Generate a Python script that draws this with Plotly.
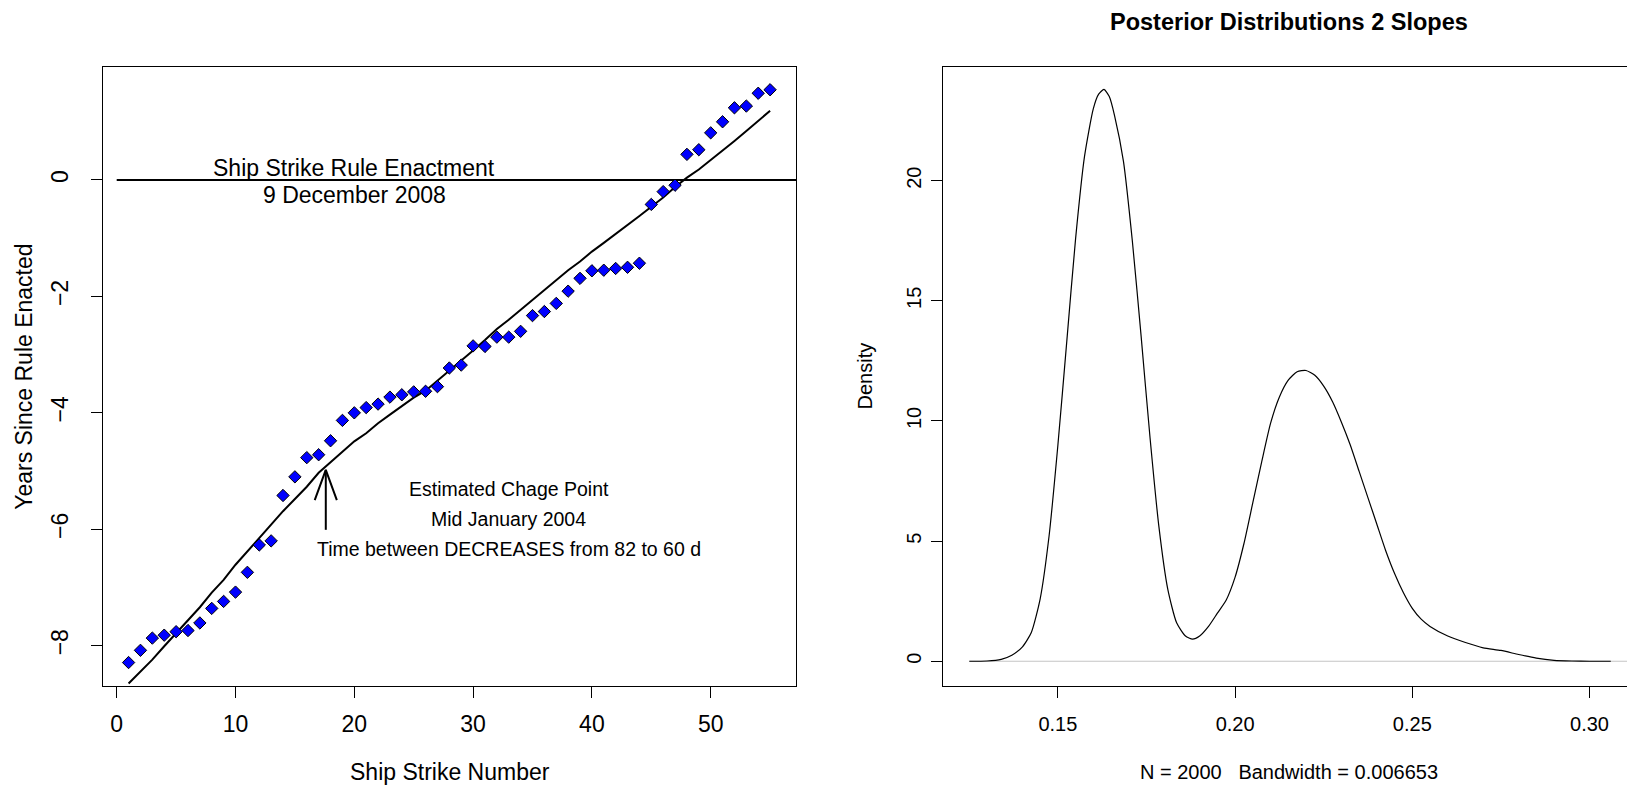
import plotly.graph_objects as go

# ---------------- data ----------------
strike_number = list(range(1, 56))
years_since_rule = [
    -8.29, -8.08, -7.87, -7.82, -7.76, -7.74, -7.61, -7.36, -7.24, -7.08,
    -6.74, -6.27, -6.20, -5.42, -5.10, -4.77, -4.72, -4.48, -4.13, -4.00,
    -3.91, -3.85, -3.73, -3.69, -3.64, -3.63, -3.55, -3.23, -3.18, -2.85,
    -2.86, -2.70, -2.70, -2.60, -2.33, -2.26, -2.12, -1.91, -1.69, -1.56,
    -1.55, -1.52, -1.50, -1.43, -0.42, -0.20, -0.09, 0.44, 0.52, 0.81,
    1.00, 1.24, 1.27, 1.49, 1.55,
]
fitted_years = [
    -8.65, -8.45, -8.24, -8.01, -7.79, -7.56, -7.34, -7.09, -6.87, -6.61,
    -6.38, -6.16, -5.92, -5.69, -5.48, -5.27, -5.03, -4.85, -4.67, -4.49,
    -4.35, -4.18, -4.03, -3.88, -3.74, -3.62, -3.45, -3.28, -3.10, -2.93,
    -2.75, -2.56, -2.40, -2.23, -2.05, -1.88, -1.72, -1.55, -1.40, -1.23,
    -1.08, -0.93, -0.78, -0.62, -0.46, -0.30, -0.12, 0.04, 0.18, 0.34,
    0.51, 0.67, 0.84, 1.02, 1.19,
]
left_xticks = [0, 10, 20, 30, 40, 50]
left_yticks = [-8, -6, -4, -2, 0]
rule_line_y = 0
change_point_x = 17.6
change_point_arrow_y = [-6.01, -4.98]

slope_x = [
    0.1250, 0.1300, 0.1340, 0.1370, 0.1400, 0.1425, 0.1450, 0.1475, 0.1500, 0.1525,
    0.1550, 0.1575, 0.1600, 0.1615, 0.1630, 0.1645, 0.1660, 0.1685, 0.1710, 0.1735,
    0.1760, 0.1785, 0.1810, 0.1835, 0.1860, 0.1880, 0.1900, 0.1925, 0.1950, 0.1975,
    0.2000, 0.2025, 0.2050, 0.2075, 0.2100, 0.2125, 0.2150, 0.2175, 0.2200, 0.2225,
    0.2250, 0.2275, 0.2300, 0.2325, 0.2350, 0.2375, 0.2400, 0.2425, 0.2450, 0.2475,
    0.2500, 0.2525, 0.2550, 0.2600, 0.2650, 0.2700, 0.2750, 0.2800, 0.2850, 0.2900,
    0.2950, 0.3000, 0.3060,
]
slope_density = [
    0.0, 0.01, 0.08, 0.25, 0.6, 1.2, 2.6, 5.2, 9.0, 13.3,
    17.6, 21.0, 23.0, 23.6, 23.8, 23.5, 22.7, 20.8, 17.5, 13.5,
    9.3, 5.6, 3.0, 1.6, 1.05, 0.92, 1.05, 1.45, 2.0, 2.55,
    3.5, 4.9, 6.6, 8.3, 9.9, 11.0, 11.7, 12.05, 12.1, 11.9,
    11.45, 10.8, 9.95, 9.0, 7.9, 6.8, 5.7, 4.6, 3.65, 2.85,
    2.2, 1.75, 1.45, 1.05, 0.78, 0.56, 0.45, 0.28, 0.13, 0.04,
    0.01, 0.0, 0.0,
]
right_xticks = [0.15, 0.20, 0.25, 0.30]
right_xticktext = ["0.15", "0.20", "0.25", "0.30"]
right_yticks = [0, 5, 10, 15, 20]

# ---------------- layout helpers ----------------
W, H = 1627, 787
FONT = "Liberation Sans, Arial, Helvetica, sans-serif"


def px(x):
    return x / W


def py(y):
    return 1 - y / H


L_RANGE_X = [-1.153, 57.18]
L_RANGE_Y = [-8.693, 1.941]
R_RANGE_X = [0.11758, 0.31058]
R_RANGE_Y = [-1.03, 24.73]

fig = go.Figure()

# ---- left panel ----
fig.add_trace(go.Scatter(
    x=[0, L_RANGE_X[1]], y=[rule_line_y, rule_line_y], mode="lines",
    line=dict(color="black", width=2), xaxis="x", yaxis="y", hoverinfo="skip"))
fig.add_trace(go.Scatter(
    x=strike_number, y=fitted_years, mode="lines",
    line=dict(color="black", width=2), xaxis="x", yaxis="y"))
fig.add_trace(go.Scatter(
    x=strike_number, y=years_since_rule, mode="markers",
    marker=dict(symbol="diamond", size=9.5, color="#0000FF",
                line=dict(color="black", width=1)),
    xaxis="x", yaxis="y"))
# arrow shaft and open head
head_dx, head_dy = 0.93, 0.52
fig.add_trace(go.Scatter(
    x=[change_point_x, change_point_x], y=change_point_arrow_y, mode="lines",
    line=dict(color="black", width=2), xaxis="x", yaxis="y"))
fig.add_trace(go.Scatter(
    x=[change_point_x - head_dx, change_point_x, change_point_x + head_dx],
    y=[change_point_arrow_y[1] - head_dy, change_point_arrow_y[1],
       change_point_arrow_y[1] - head_dy],
    mode="lines", line=dict(color="black", width=2), xaxis="x", yaxis="y"))

# ---- right panel ----
fig.add_trace(go.Scatter(
    x=[slope_x[0], R_RANGE_X[1]], y=[0, 0], mode="lines",
    line=dict(color="#C4C4C4", width=1.2), xaxis="x2", yaxis="y2"))
fig.add_trace(go.Scatter(
    x=slope_x, y=slope_density, mode="lines",
    line=dict(color="black", width=1.2, shape="spline", smoothing=0.6),
    xaxis="x2", yaxis="y2"))

axis_common = dict(showgrid=False, zeroline=False, showline=True, linecolor="black",
                   linewidth=1, ticks="outside", ticklen=11, tickcolor="black",
                   tickwidth=1)

y_dom = [(H - 686) / H, (H - 67) / H]

fig.update_layout(
    width=W, height=H,
    margin=dict(l=0, r=0, t=0, b=0),
    paper_bgcolor="white", plot_bgcolor="white",
    showlegend=False,
    font=dict(family=FONT, color="black"),
    xaxis=dict(domain=[px(103), px(796)], range=L_RANGE_X, tickvals=left_xticks,
               mirror=True, anchor="y", tickfont=dict(size=23),
               ticklabelstandoff=6, **axis_common),
    yaxis=dict(domain=y_dom, range=L_RANGE_Y, tickvals=left_yticks,
               mirror=True, anchor="x", tickangle=-90, tickfont=dict(size=23),
               ticklabelstandoff=14, **axis_common),
    xaxis2=dict(domain=[px(943), 1.0], range=R_RANGE_X, tickvals=right_xticks,
                ticktext=right_xticktext, mirror=True, anchor="y2",
                tickfont=dict(size=20), ticklabelstandoff=9, **axis_common),
    yaxis2=dict(domain=y_dom, range=R_RANGE_Y, tickvals=right_yticks,
                mirror=False, anchor="x2", tickangle=-90, tickfont=dict(size=20),
                ticklabelstandoff=2, **axis_common),
)

annotations = [
    # left panel texts in data coordinates
    dict(x=20, y=0.20, xref="x", yref="y", text="Ship Strike Rule Enactment",
         showarrow=False, font=dict(size=23), xanchor="center", yanchor="middle"),
    dict(x=20, y=-0.26, xref="x", yref="y", text="9 December 2008",
         showarrow=False, font=dict(size=23), xanchor="center", yanchor="middle"),
    dict(x=33, y=-5.31, xref="x", yref="y", text="Estimated Chage Point",
         showarrow=False, font=dict(size=19.5), xanchor="center", yanchor="middle"),
    dict(x=33, y=-5.83, xref="x", yref="y", text="Mid January 2004",
         showarrow=False, font=dict(size=19.5), xanchor="center", yanchor="middle"),
    dict(x=33, y=-6.34, xref="x", yref="y",
         text="Time between DECREASES from 82 to 60 d",
         showarrow=False, font=dict(size=19.5), xanchor="center", yanchor="middle"),
    # axis titles
    dict(x=px(450), y=py(771.5), xref="paper", yref="paper", text="Ship Strike Number",
         showarrow=False, font=dict(size=23), xanchor="center", yanchor="middle"),
    dict(x=px(23.3), y=py(376.5), xref="paper", yref="paper",
         text="Years Since Rule Enacted", textangle=-90,
         showarrow=False, font=dict(size=23), xanchor="center", yanchor="middle"),
    dict(x=px(864), y=py(376.5), xref="paper", yref="paper", text="Density",
         textangle=-90, showarrow=False, font=dict(size=20),
         xanchor="center", yanchor="middle"),
    dict(x=px(1289), y=py(772), xref="paper", yref="paper",
         text="N = 2000   Bandwidth = 0.006653",
         showarrow=False, font=dict(size=20), xanchor="center", yanchor="middle"),
    dict(x=px(1289), y=py(21.7), xref="paper", yref="paper",
         text="<b>Posterior Distributions 2 Slopes</b>",
         showarrow=False, font=dict(size=23.5), xanchor="center", yanchor="middle"),
]
fig.update_layout(annotations=annotations)

fig.write_html(
    "out.html",
    config={"displayModeBar": False},
    post_script="document.body.style.margin='0';document.body.style.overflow='hidden';",
)
